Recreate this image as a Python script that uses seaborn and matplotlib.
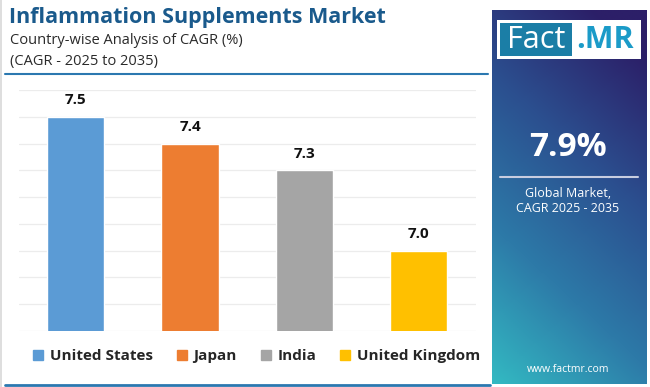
import numpy as np
import pandas as pd
import matplotlib
matplotlib.use('Agg')
import matplotlib.pyplot as plt
import seaborn as sns
from matplotlib.patches import Rectangle
from matplotlib.lines import Line2D
from matplotlib.colors import LinearSegmentedColormap

#Chart data
countries = ['United States', 'Japan', 'India', 'United Kingdom']
cagr = [7.5, 7.4, 7.3, 7.0]
colors = ['#5b9bd5', '#ed7d31', '#a5a5a5', '#ffc000']
global_cagr = '7.9%'

W, H = 650, 387
sns.set_style('white')
plt.rcParams['font.family'] = ['Open Sans', 'DejaVu Sans']

fig = plt.figure(figsize=(W / 100, H / 100), dpi=100)
fig.patch.set_facecolor('white')

def fx(x):
    return x / W

def fy(y):
    return 1 - y / H

#Bar chart
data = pd.DataFrame({'country': countries, 'cagr': cagr})
ax = fig.add_axes([fx(18.5), fy(331), fx(476) - fx(18.5), fy(90) - fy(331)])
sns.barplot(data=data, x='country', y='cagr', hue='country', palette=colors,
            width=0.5, saturation=1, legend=False, ax=ax, zorder=3)
ax.set_ylim(6.7, 7.6)
ax.set_xlim(-0.5, 3.5)
ax.set_yticks(np.arange(6.7, 7.61, 0.1))
ax.yaxis.grid(True, color='#ececec', linewidth=0.9, zorder=0)
ax.set_axisbelow(True)
ax.set_xticks([])
ax.set_yticklabels([])
ax.tick_params(left=False, bottom=False)
ax.set_xlabel('')
ax.set_ylabel('')
for s in ax.spines.values():
    s.set_visible(False)
for i, v in enumerate(cagr):
    ax.text(i, v + 0.035, f'{v:.1f}', ha='center', va='bottom',
            fontsize=11, fontweight='bold', color='#111111')

#Legend
handles = [Line2D([0], [0], marker='s', linestyle='', markersize=7.5,
                  markerfacecolor=c, markeredgecolor=c) for c in colors]
leg = fig.legend(handles, countries, loc='center', bbox_to_anchor=(fx(256), fy(356)),
                 ncol=4, frameon=False, handlelength=0.8, handletextpad=0.35,
                 columnspacing=1.5, prop={'weight': 'bold', 'size': 11})

#Title block
fig.text(fx(9), fy(17), 'Inflammation Supplements Market', fontsize=15.5,
         fontweight='bold', color='#1a5a8c', va='center', ha='left')
fig.text(fx(10), fy(40), 'Country-wise Analysis of CAGR (%)', fontsize=10.5,
         color='#2a2a2a', va='center', ha='left')
fig.text(fx(10), fy(61), '(CAGR - 2025 to 2035)', fontsize=10.5,
         color='#2a2a2a', va='center', ha='left')
fig.add_artist(Line2D([fx(5), fx(488)], [fy(74), fy(74)], color='#2b78b0', linewidth=1.5))
fig.add_artist(Line2D([fx(5), fx(490)], [fy(385), fy(385)], color='#2b78b0', linewidth=2))
fig.add_artist(Line2D([fx(1), fx(1)], [fy(0), fy(387)], color='#d8d8d8', linewidth=1.2))

#Right panel with gradient
pax = fig.add_axes([fx(492), fy(384), fx(647) - fx(492), fy(10) - fy(384)])
ny, nx = 200, 80
yy, xx = np.mgrid[0:1:ny * 1j, 0:1:nx * 1j]
t = np.clip(0.8 * yy + 0.3 * (1 - xx) - 0.1, 0, 1)
cmap = LinearSegmentedColormap.from_list('panel', ['#2c1f68', '#2b4f8f', '#2d7aa8', '#33b9c2'])
pax.imshow(t, cmap=cmap, aspect='auto', extent=[0, 1, 1, 0], vmin=0, vmax=1)
pax.set_xlim(0, 1)
pax.set_ylim(1, 0)
pax.axis('off')

#Logo
fig.add_artist(Rectangle((fx(497), fy(59)), fx(641) - fx(497), fy(20) - fy(59),
                         facecolor='white', edgecolor='none'))
fig.add_artist(Rectangle((fx(500), fy(56)), fx(572) - fx(500), fy(23) - fy(56),
                         facecolor='#1b7ea6', edgecolor='none'))
fig.text(fx(536), fy(40), 'Fact', fontsize=22, color='white', ha='center', va='center')
fig.text(fx(605), fy(40), '.MR', fontsize=22, color='#1b9bc8', ha='center', va='center',
         fontweight='bold')

#Panel text
fig.text(fx(568), fy(147), global_cagr, fontsize=24, fontweight='bold', color='white',
         ha='center', va='center')
fig.add_artist(Line2D([fx(500), fx(638)], [fy(177), fy(177)], color='#c8cde0', linewidth=1.5))
fig.text(fx(568), fy(193), 'Global Market,', fontsize=9, color='white', ha='center', va='center')
fig.text(fx(568), fy(209), 'CAGR 2025 - 2035', fontsize=9, color='white', ha='center', va='center')
fig.text(fx(568), fy(369), 'www.factmr.com', fontsize=7.5, color='white', ha='center', va='center')

fig.savefig('out.png', dpi=100)
